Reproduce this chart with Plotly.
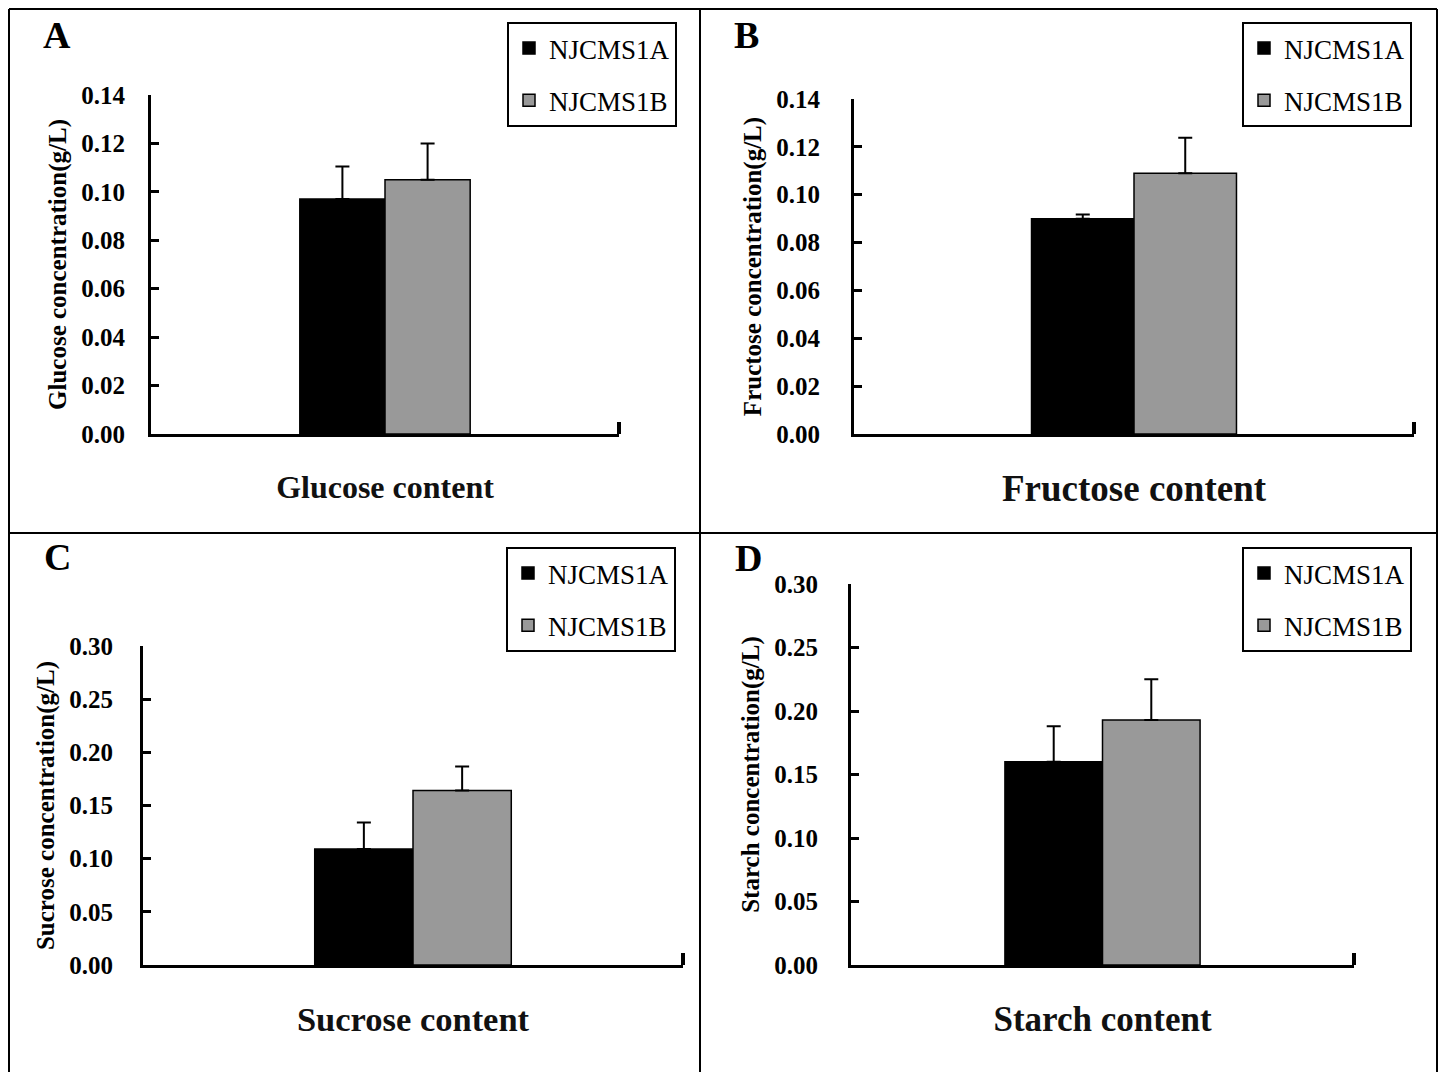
import plotly.graph_objects as go

# Measured sugar / starch contents (g/L) for the two lines
lines = ["NJCMS1A", "NJCMS1B"]
panels = ["A", "B", "C", "D"]
categories = ["Glucose content", "Fructose content", "Sucrose content", "Starch content"]
y_titles = [
    "Glucose concentration(g/L)",
    "Fructose concentration(g/L)",
    "Sucrose concentration(g/L)",
    "Starch concentration(g/L)",
]
njcms1a_mean = [0.097, 0.090, 0.109, 0.160]
njcms1b_mean = [0.105, 0.109, 0.164, 0.193]
njcms1a_sd = [0.0135, 0.0017, 0.025, 0.028]
njcms1b_sd = [0.015, 0.0148, 0.0227, 0.032]
y_max = [0.14, 0.14, 0.30, 0.30]
y_step = [0.02, 0.02, 0.05, 0.05]

W, H = 1440, 1072
FONT = "Liberation Serif, Times New Roman, serif"
fills = ["#000000", "#999999"]

# Plot-area placement of each panel in pixels: left, right, top, bottom
boxes = [(151, 619, 95, 434), (854, 1414, 99, 434), (143, 683, 646, 965), (851, 1354, 584, 965)]
bar_w = [0.182, 0.183, 0.182, 0.194]
label_gap = [18, 26, 22, 25]
xtitle_size = [32, 37, 34.5, 35]
legend_pos = [(507, 22), (1242, 22), (506, 547), (1242, 547)]
label_pos = [(57, 35), (746, 35), (57, 557), (748, 558)]


def px_x(v):
    return v / W


def px_y(v):
    return 1 - v / H


fig = go.Figure()
means = [njcms1a_mean, njcms1b_mean]
sds = [njcms1a_sd, njcms1b_sd]

layout = {}
end_ticks = []
for i in range(4):
    n = "" if i == 0 else str(i + 1)
    leg = "legend" + n
    for j in range(2):
        fig.add_trace(go.Bar(
            x=[categories[i]],
            y=[means[j][i]],
            name=lines[j],
            xaxis="x" + n,
            yaxis="y" + n,
            legend=leg,
            legendgroup=f"{leg}-{j}",
            width=bar_w[i],
            offset=-bar_w[i] if j == 0 else 0,
            marker=dict(color=fills[j], line=dict(color="black", width=1.5)),
            error_y=dict(type="data", symmetric=False, array=[sds[j][i]], arrayminus=[0],
                         color="black", thickness=2, width=7),
        ))
    l, r, t, b = boxes[i]
    layout["xaxis" + n] = dict(
        domain=[px_x(l), px_x(r)], anchor="y" + n, type="category",
        range=[-0.5, 0.5], showline=True, linewidth=3, linecolor="black",
        ticks="", showticklabels=False, showgrid=False, zeroline=False, fixedrange=True,
        title=dict(text=categories[i], standoff=40,
                   font=dict(family=FONT, size=xtitle_size[i], color="#111", weight="bold")),
    )
    layout["yaxis" + n] = dict(
        domain=[px_y(b), px_y(t)], anchor="x" + n,
        range=[0, y_max[i]], dtick=y_step[i], tick0=0, tickformat=".2f",
        showline=True, linewidth=3, linecolor="black",
        ticks="inside", ticklen=8, tickwidth=3, tickcolor="black",
        ticklabelstandoff=label_gap[i],
        tickfont=dict(family=FONT, size=25, color="black", weight="bold"),
        showgrid=False, zeroline=False, fixedrange=True,
        title=dict(text=y_titles[i], standoff=8,
                   font=dict(family=FONT, size=25, color="black", weight="bold")),
    )
    # closing tick at the right end of the category axis
    end_ticks.append(dict(
        type="line", xref="x" + n + " domain", yref="y" + n,
        x0=1, x1=1, ysizemode="pixel", yanchor=0, y0=0, y1=12,
        line=dict(color="black", width=4),
    ))
    lx, ly = legend_pos[i]
    layout[leg] = dict(
        x=px_x(lx), y=px_y(ly), xanchor="left", yanchor="top",
        bgcolor="white", bordercolor="black", borderwidth=2,
        font=dict(family=FONT, size=27, color="black"),
        traceorder="grouped", tracegroupgap=14,
    )

annotations = [
    dict(text=panels[i], x=px_x(label_pos[i][0]), y=px_y(label_pos[i][1]),
         xref="paper", yref="paper", xanchor="center", yanchor="middle", showarrow=False,
         font=dict(family=FONT, size=38, color="black", weight="bold"))
    for i in range(4)
]

# Outer frame and the cross dividing the four panels
frame = dict(type="line", xref="paper", yref="paper", line=dict(color="black", width=2))
shapes = [
    dict(frame, x0=px_x(9), x1=px_x(9), y0=px_y(9), y1=0),
    dict(frame, x0=px_x(9), x1=px_x(1437), y0=px_y(9), y1=px_y(9)),
    dict(frame, x0=px_x(1437), x1=px_x(1437), y0=px_y(9), y1=0),
    dict(frame, x0=px_x(700), x1=px_x(700), y0=px_y(9), y1=0),
    dict(frame, x0=px_x(9), x1=px_x(1437), y0=px_y(533), y1=px_y(533)),
] + end_ticks

fig.update_layout(
    width=W, height=H,
    margin=dict(l=0, r=0, t=0, b=0, autoexpand=False),
    paper_bgcolor="white", plot_bgcolor="white",
    barmode="overlay",
    showlegend=True,
    annotations=annotations,
    shapes=shapes,
    **layout,
)

fig.write_html("out.html")
